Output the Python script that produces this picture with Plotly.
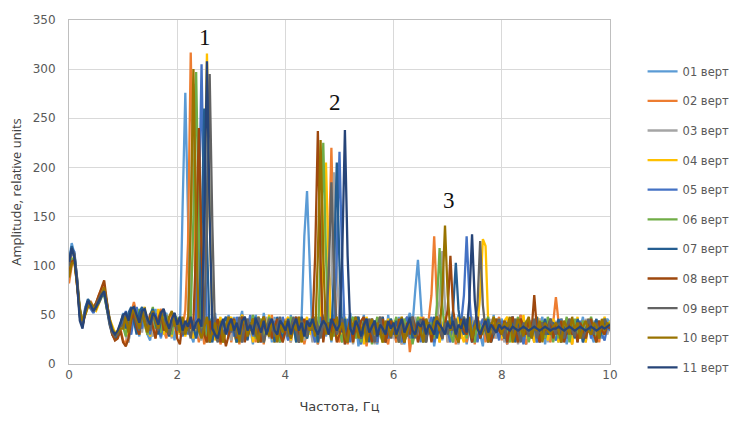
import plotly.graph_objects as go

# Frequency grid, Hz (0.05 Hz step, 0..10)
freq = [round(i * 0.05, 2) for i in range(201)]

names = ["01 верт", "02 верт", "03 верт", "04 верт", "05 верт", "06 верт",
         "07 верт", "08 верт", "09 верт", "10 верт", "11 верт"]
colors = ["#5B9BD5", "#ED7D31", "#A5A5A5", "#FFC000", "#4472C4", "#70AD47",
          "#255E91", "#9E480E", "#636363", "#997300", "#264478"]

s01 = [105,123,112,85,55,42,58,64,60,52,57,66,70,74,58,44,36,30,33,40,
       52,30,22,46,58,40,28,55,48,30,24,46,56,36,26,48,52,30,44,24,
       46,32,160,276,150,30,22,44,26,50,34,48,24,40,52,28,46,22,38,50,
       28,48,22,42,54,26,46,36,20,50,40,24,52,34,46,22,48,30,44,26,
       44,24,50,34,26,42,48,130,176,100,26,46,20,38,50,28,44,22,50,34,
       26,48,20,40,52,24,44,18,36,50,22,40,46,30,20,44,34,22,50,28,
       42,22,48,30,20,44,52,40,75,106,65,22,46,30,44,18,36,50,24,40,
       28,48,22,40,50,26,44,20,36,48,22,40,30,18,44,34,24,50,26,40,
       46,30,20,36,48,24,40,50,28,20,36,44,30,22,40,48,20,36,28,44,
       32,22,46,34,20,44,30,40,24,36,48,26,40,30,22,44,34,26,40,46,
       42]
s02 = [82,100,108,80,50,38,52,60,64,58,62,70,76,80,62,42,30,25,28,36,
       24,20,40,52,63,50,38,54,40,30,52,36,26,50,56,34,26,46,52,38,
       30,48,36,55,123,317,160,40,22,40,20,32,46,24,34,44,20,30,40,48,
       22,46,34,20,50,38,26,48,42,22,36,46,20,40,30,50,22,42,34,26,
       46,32,22,42,28,48,38,20,34,46,24,42,20,36,40,44,110,220,105,28,
       22,40,46,20,34,44,26,48,22,40,18,36,46,30,22,40,48,26,20,44,
       34,22,46,20,40,48,12,34,44,26,40,48,22,44,70,130,65,22,38,46,
       22,36,46,20,40,26,48,22,36,44,20,40,30,46,22,36,44,26,40,48,
       24,44,20,36,48,22,40,50,30,20,44,36,22,40,46,26,44,30,22,42,
       68,42,22,38,46,30,20,44,34,26,44,22,38,46,30,36,22,44,30,40,
       34]
s03 = [98,112,110,88,58,40,56,62,58,54,60,66,74,76,60,46,34,28,32,38,
       44,30,22,42,50,56,44,32,52,46,34,28,46,54,40,30,48,38,26,46,
       42,30,46,34,42,150,285,140,30,24,42,48,22,34,46,28,40,22,46,32,
       24,44,34,48,22,40,46,30,50,34,22,42,36,48,26,34,46,22,40,44,
       32,46,22,38,48,28,42,24,38,46,22,34,48,38,28,42,46,90,195,100,
       40,22,46,30,42,20,36,48,26,40,22,46,34,20,44,30,40,22,46,32,
       26,44,34,20,46,30,40,22,48,34,42,26,38,46,30,36,44,65,115,60,
       22,40,46,30,20,44,34,26,40,48,22,36,44,30,40,22,46,34,26,44,
       34,22,46,38,28,44,20,34,48,26,40,44,22,36,46,28,40,22,44,34,
       44,30,22,38,46,34,26,44,30,40,22,46,34,30,44,38,26,36,44,30,
       38]
s04 = [96,108,104,84,52,44,50,58,62,56,54,62,68,74,56,46,38,32,34,40,
       50,36,30,52,58,42,30,52,58,38,28,48,36,56,44,30,50,40,28,48,
       44,30,48,28,46,38,26,44,34,50,160,316,150,40,24,38,48,22,34,42,
       48,30,22,42,50,28,38,46,22,34,48,42,26,38,50,30,22,46,38,32,
       42,48,24,38,34,46,22,40,48,30,38,46,34,42,110,205,100,30,44,24,
       40,24,48,34,44,22,46,30,40,20,48,34,42,26,38,48,22,34,46,30,
       44,34,22,48,38,28,46,22,34,42,48,26,38,34,46,30,44,22,38,48,
       34,44,26,38,48,30,22,46,34,44,26,38,70,127,120,40,22,48,34,46,
       26,44,48,34,22,46,38,30,50,26,44,34,22,48,38,30,44,24,38,46,
       34,22,46,38,30,44,20,36,48,26,40,22,46,34,30,44,26,38,48,34,
       44]
s05 = [100,118,114,86,50,40,54,60,56,52,58,64,70,76,62,44,32,26,30,38,
       42,54,36,30,48,58,46,36,54,44,30,46,52,36,28,42,50,30,46,40,
       34,46,28,40,30,44,36,48,150,305,145,32,22,42,48,30,24,44,36,28,
       44,28,48,34,22,46,36,50,28,42,34,22,48,36,44,28,44,34,22,48,
       36,24,46,34,48,22,42,30,38,46,32,22,40,48,30,38,46,32,40,110,
       216,105,30,46,22,38,48,30,20,42,34,26,46,38,22,48,34,42,26,38,
       30,46,34,22,42,48,26,38,34,46,22,42,30,38,48,22,36,46,30,42,
       34,22,46,38,30,42,70,130,70,30,44,22,38,46,34,26,42,30,38,24,
       44,30,22,38,48,34,26,42,20,36,46,30,38,22,42,34,26,38,46,30,
       24,38,46,34,26,42,30,38,22,44,34,30,42,26,38,34,44,30,24,38,
       34]
s06 = [94,106,108,82,56,42,54,64,60,56,62,68,72,70,56,44,36,30,32,38,
       38,28,46,54,48,34,56,50,40,30,48,58,36,44,32,52,48,40,30,50,
       46,32,42,30,40,48,150,297,140,30,42,22,46,36,28,44,34,22,40,46,
       34,46,22,38,48,28,42,34,50,26,38,46,22,34,48,38,28,42,22,36,
       42,28,48,38,22,44,34,42,26,38,48,34,22,110,225,110,30,42,28,46,
       34,22,46,30,42,48,26,38,22,46,34,42,20,38,48,30,22,42,34,46,
       38,48,22,34,46,30,42,20,34,48,38,22,46,34,42,26,60,118,60,30,
       42,30,22,46,34,38,48,26,42,34,22,46,38,30,42,48,26,34,46,38,
       30,44,34,22,46,38,48,26,34,44,22,38,46,30,34,44,26,48,38,22,
       38,26,44,34,48,22,38,46,30,34,44,26,38,48,34,22,44,30,46,38,
       42]
s07 = [102,120,110,84,48,38,56,66,62,56,58,62,68,72,56,40,30,26,30,40,
       50,36,52,58,42,30,52,58,44,34,50,56,42,30,46,54,40,28,44,52,
       36,48,30,42,34,46,38,26,42,130,260,125,30,22,44,36,26,42,48,32,
       46,34,22,40,48,34,24,42,38,48,22,34,46,30,38,44,22,48,34,26,
       36,46,30,42,22,34,48,38,26,42,34,46,22,38,48,34,42,26,100,205,
       100,32,46,22,38,30,42,48,26,34,46,22,38,44,30,34,48,22,38,46,
       30,44,34,46,22,38,48,26,34,44,30,46,22,38,34,48,26,42,30,38,
       44,34,55,103,55,38,30,46,34,22,42,48,26,38,34,46,22,30,44,34,
       38,26,42,34,48,22,38,46,30,34,44,26,38,48,22,34,46,30,38,42,
       34,46,22,38,30,44,34,26,46,38,22,34,44,30,38,46,26,34,42,38,
       36]
s08 = [92,104,106,80,54,40,52,62,58,56,62,70,78,85,64,44,30,24,26,34,
       22,18,26,44,52,38,30,54,42,34,50,38,26,46,54,34,44,30,40,50,
       26,20,44,34,48,36,44,120,240,115,30,22,44,30,38,46,22,34,18,30,
       40,46,26,34,48,22,42,34,46,30,38,22,48,34,42,26,38,46,30,22,
       34,44,26,38,48,22,34,46,30,42,38,110,237,105,22,44,30,34,46,22,
       30,44,20,34,46,22,38,30,44,48,26,36,22,42,38,30,46,22,34,44,
       38,26,46,34,22,42,30,48,38,22,34,46,30,42,22,38,48,34,26,42,
       55,110,55,38,22,46,34,30,44,22,38,48,26,34,44,30,22,38,46,34,
       30,44,22,38,48,34,22,46,38,30,44,34,70,34,22,42,30,38,46,26,
       40,30,44,22,34,46,30,38,22,42,34,26,38,46,30,22,44,34,30,40,
       36]
s09 = [100,116,112,86,52,40,54,62,58,54,60,66,72,74,58,42,32,28,30,38,
       40,50,36,52,56,42,34,48,54,42,34,52,42,34,48,56,42,30,40,50,
       34,46,30,42,38,26,44,36,46,30,40,150,295,140,30,22,42,30,38,46,
       32,42,28,48,22,38,46,34,42,28,48,38,22,34,46,42,28,38,48,34,
       42,28,38,48,34,22,44,38,28,42,34,48,38,26,42,34,90,185,90,30,
       38,46,30,22,42,34,48,38,26,42,30,46,34,22,38,48,30,42,34,26,
       42,34,22,46,38,28,42,48,26,34,46,38,22,42,34,30,46,38,26,42,
       30,42,34,46,22,38,48,34,42,28,38,60,125,60,34,22,42,30,38,46,
       34,26,42,38,30,46,34,22,42,38,28,34,46,26,38,42,30,34,46,38,
       30,42,34,26,38,46,34,28,42,38,26,34,46,38,30,42,34,38,46,40,
       38]
s10 = [88,102,104,82,56,44,50,58,62,58,56,64,70,78,60,46,36,30,32,36,
       36,48,32,50,56,46,36,54,44,32,46,54,44,36,52,42,32,48,54,38,
       46,32,48,30,40,145,300,140,34,26,38,48,22,34,42,26,44,22,38,48,
       34,44,38,22,40,48,28,38,46,34,22,42,48,34,28,44,38,22,42,32,
       44,36,26,42,34,48,22,38,44,34,42,28,110,228,110,30,42,24,38,48,
       34,42,28,22,44,38,48,26,34,42,22,38,46,30,42,34,22,44,38,28,
       42,28,38,48,22,34,44,38,28,42,34,22,46,38,30,42,48,34,70,141,
       70,34,42,28,22,44,38,34,48,26,38,42,30,34,46,22,38,48,34,42,
       30,42,38,48,22,34,46,38,28,42,48,26,38,34,44,22,42,34,30,38,
       42,34,22,44,38,30,48,34,42,26,38,44,34,30,42,38,26,46,34,42,
       38]
s11 = [104,118,108,82,44,36,54,64,60,54,58,64,70,74,58,44,34,30,34,42,
       50,52,44,56,58,50,42,54,56,46,40,52,48,40,52,56,44,36,46,52,
       40,48,34,44,38,48,34,42,46,38,150,308,150,36,30,26,38,46,30,40,
       46,34,42,30,44,48,34,40,30,46,40,32,44,30,40,46,34,30,44,40,
       34,44,30,40,46,34,42,28,44,38,46,36,30,38,44,40,30,46,40,34,
       40,110,238,110,36,30,44,38,28,40,46,32,38,44,28,40,36,30,44,36,
       42,30,38,46,32,40,46,34,30,42,38,44,30,40,36,30,44,40,36,30,
       42,36,44,30,40,36,46,32,65,132,65,36,30,38,44,32,40,36,32,40,
       36,38,36,34,38,36,34,36,38,36,34,36,38,36,34,36,38,36,34,36,
       36,38,36,34,36,38,36,34,36,38,36,34,36,38,36,34,36,38,36,38,
       40]

series = [s01, s02, s03, s04, s05, s06, s07, s08, s09, s10, s11]

peak_labels = ["1", "2", "3"]
peak_label_x = [2.52, 4.92, 7.02]
peak_label_y = [332, 266, 166]

fig = go.Figure()
for i, (nm, col, ys) in enumerate(zip(names, colors, series)):
    fig.add_trace(go.Scatter(
        x=freq, y=ys, name=nm, mode="lines",
        line=dict(color=col, width=2.3),
        legendgroup="g%d" % i,
    ))

for t, ax, ay in zip(peak_labels, peak_label_x, peak_label_y):
    fig.add_annotation(x=ax, y=ay, text=t, showarrow=False,
                       font=dict(family="Liberation Serif", size=23, color="#111111"))

fig.update_layout(
    width=742, height=427,
    margin=dict(l=69, r=132, t=20, b=63, autoexpand=False),
    paper_bgcolor="white", plot_bgcolor="white",
    font=dict(family="DejaVu Sans", color="#595959", size=12),
    legend=dict(xref="container", yref="container", x=0.866, y=0.867,
                xanchor="left", yanchor="top", maxheight=360,
                font=dict(family="DejaVu Sans", size=11.5, color="#595959"),
                tracegroupgap=10.6, bgcolor="rgba(0,0,0,0)"),
    showlegend=True,
)
fig.update_xaxes(range=[0, 10], dtick=2, tick0=0, showgrid=True, gridcolor="#d9d9d9",
                 showline=True, linecolor="#bfbfbf", mirror=True, zeroline=False,
                 ticks="", tickfont=dict(family="DejaVu Sans", size=12, color="#595959"),
                 title=dict(text="Частота, Гц", font=dict(family="DejaVu Sans", size=13, color="#404040"),
                            standoff=20))
fig.update_yaxes(range=[0, 350], dtick=50, tick0=0, showgrid=True, gridcolor="#d9d9d9",
                 showline=True, linecolor="#bfbfbf", mirror=True, zeroline=False,
                 ticks="", ticklabelstandoff=10,
                 tickfont=dict(family="DejaVu Sans", size=12, color="#595959"),
                 title=dict(text="Amplitude, relative units", font=dict(family="Open Sans", size=13, color="#404040"),
                            standoff=8))

fig.write_html("out.html")
